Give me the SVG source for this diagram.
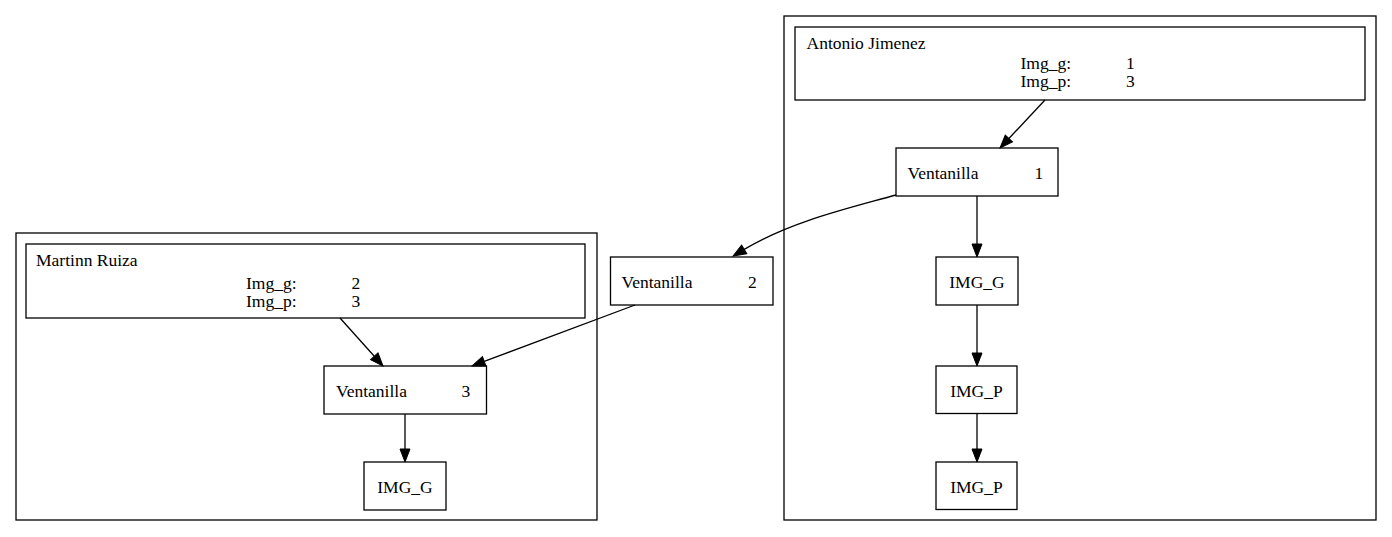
<svg xmlns="http://www.w3.org/2000/svg" width="1392" height="537" viewBox="0 0 1392 537">
<style>
.box{fill:#fff;stroke:#000;stroke-width:1.3}
.cl{fill:none;stroke:#000;stroke-width:1.3}
.t{font-size:17.5px;fill:#000}
.m{text-anchor:middle}
.e{fill:none;stroke:#000;stroke-width:1.3}
</style>
<defs>
<marker id="ah" markerUnits="userSpaceOnUse" markerWidth="14" markerHeight="11" refX="0" refY="5" orient="auto" overflow="visible">
<path d="M0,0 L13,5 L0,10 z" fill="#000" stroke="#000" stroke-width="1"/>
</marker>
</defs>
<rect width="1392" height="537" fill="#fff"/>
<g font-family="'Liberation Serif', 'DejaVu Serif', 'Times New Roman', serif">
<g id="cluster_antonio">
<rect class="cl" x="784" y="16" width="592" height="504"/>
</g>
<g id="cluster_martinn">
<rect class="cl" x="16" y="233" width="581" height="287"/>
</g>
<g id="antonio">
<rect class="box" x="795" y="27" width="570" height="73"/>
<text class="t" x="806.5" y="49.3">Antonio Jimenez</text>
<text class="t" x="1020.5" y="69.3">Img_g:</text>
<text class="t" x="1126" y="69.3">1</text>
<text class="t" x="1020.5" y="86.7">Img_p:</text>
<text class="t" x="1126" y="86.7">3</text>
</g>
<g id="martinn">
<rect class="box" x="26" y="244" width="559" height="74"/>
<text class="t" x="36" y="265.7">Martinn Ruiza</text>
<text class="t" x="246" y="289.3">Img_g:</text>
<text class="t" x="351.5" y="289.3">2</text>
<text class="t" x="246" y="306.7">Img_p:</text>
<text class="t" x="351.5" y="306.7">3</text>
</g>
<g id="ventanilla1">
<rect class="box" x="896" y="148" width="162" height="48"/>
<text class="t" x="907.5" y="179.3">Ventanilla</text>
<text class="t" x="1034.5" y="179.3">1</text>
</g>
<g id="ventanilla2">
<rect class="box" x="610.5" y="257" width="162.5" height="48"/>
<text class="t" x="621.5" y="287.5">Ventanilla</text>
<text class="t" x="748" y="287.5">2</text>
</g>
<g id="ventanilla3">
<rect class="box" x="324" y="366" width="162.5" height="48"/>
<text class="t" x="336" y="396.7">Ventanilla</text>
<text class="t" x="461.5" y="396.7">3</text>
</g>
<g id="img_g_right">
<rect class="box" x="936" y="257" width="82" height="48"/>
<text class="t m" x="977" y="288.3">IMG_G</text>
</g>
<g id="img_p_right1">
<rect class="box" x="936" y="366" width="81" height="47.5"/>
<text class="t m" x="976.5" y="396.7">IMG_P</text>
</g>
<g id="img_p_right2">
<rect class="box" x="936" y="462" width="81" height="47.5"/>
<text class="t m" x="976.5" y="493.3">IMG_P</text>
</g>
<g id="img_g_left">
<rect class="box" x="364" y="462" width="82" height="48"/>
<text class="t m" x="405" y="492.5">IMG_G</text>
</g>
</g>
<g id="connectors">
<path class="e" marker-end="url(#ah)" d="M1045,100 L1008.9,138.5"/>
<path class="e" marker-end="url(#ah)" d="M977,196 L977,244"/>
<path class="e" marker-end="url(#ah)" d="M977,305 L977,353"/>
<path class="e" marker-end="url(#ah)" d="M977,413.5 L977,449"/>
<path class="e" marker-end="url(#ah)" d="M896,195 C850,208 792,221 744.2,249.4"/>
<path class="e" marker-end="url(#ah)" d="M635,305 C580,326 530,344 484.2,361.4"/>
<path class="e" marker-end="url(#ah)" d="M340,318 L374.3,356.3"/>
<path class="e" marker-end="url(#ah)" d="M405,414 L405,449"/>
</g>
</svg>
